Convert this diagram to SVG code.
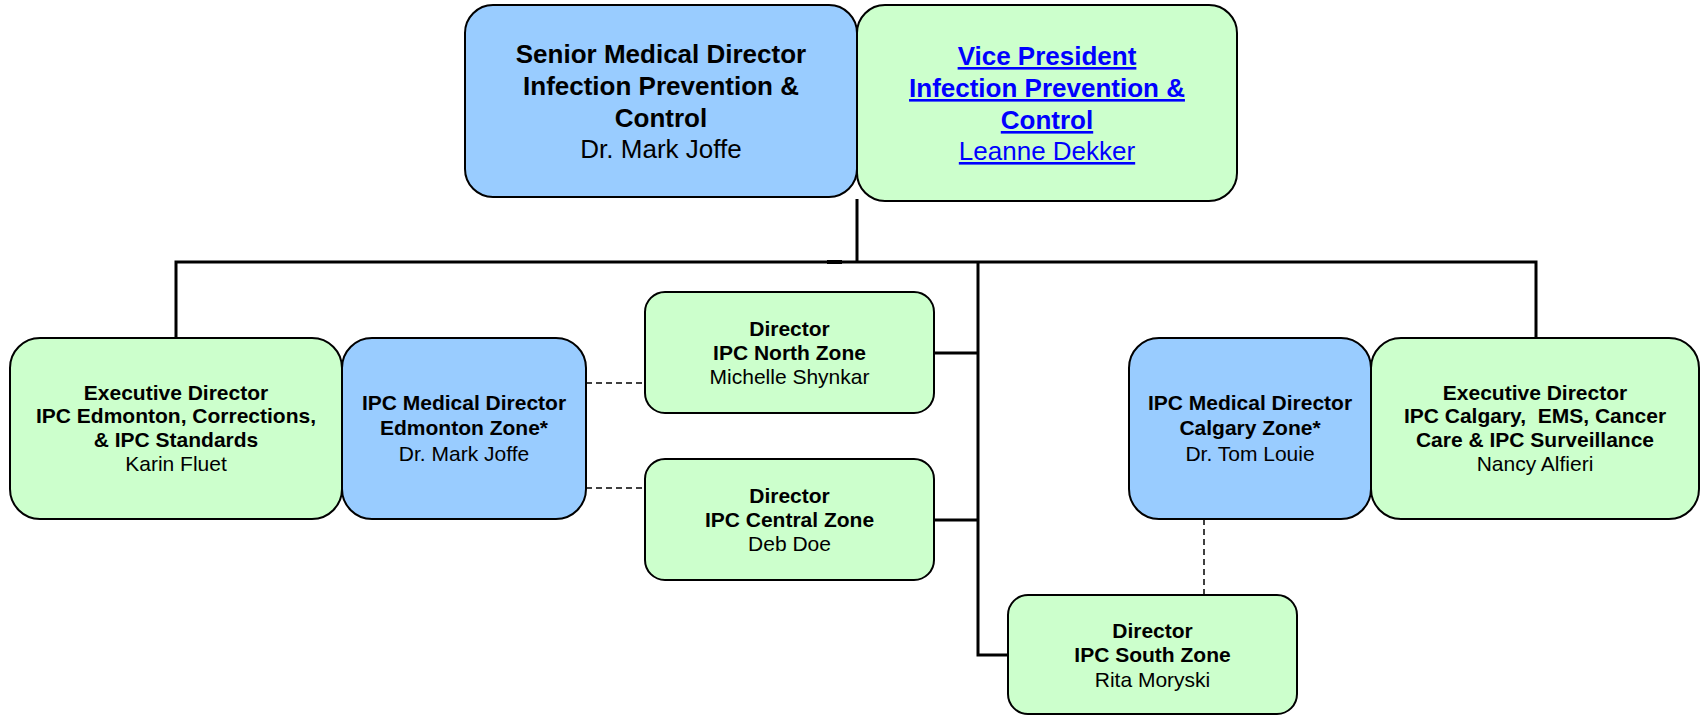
<svg xmlns="http://www.w3.org/2000/svg" width="1702" height="716" viewBox="0 0 1702 716">
<style>
.blue{fill:#99CCFF;stroke:#000;stroke-width:2}
.green{fill:#CCFFCC;stroke:#000;stroke-width:2}
text{font-family:"Liberation Sans",Arial,sans-serif;text-anchor:middle;fill:#000}
.b{font-weight:bold}
.big{font-size:26px}
.sm{font-size:21px}
.link{fill:#0000FF;text-decoration:underline}
.solid{fill:none;stroke:#000;stroke-width:3}
.dash{fill:none;stroke:#000;stroke-width:1.5;stroke-dasharray:6 4}
</style>
<rect width="1702" height="716" fill="#fff"/>
<g id="connectors">
<path class="solid" d="M857 199 V262 M176 338 V262 H1536 V338 M978 262 V655 H1008 M934 353 H978 M934 520 H978"/>
<line x1="827" y1="262" x2="842" y2="262" stroke="#000" stroke-width="4"/>
<path class="dash" d="M586 383 H645 M586 488 H645 M1204 519 V595"/>
</g>
<g id="senior-medical-director">
<rect class="blue" x="465" y="5" width="392" height="192" rx="28"/>
<text class="big" x="661"><tspan class="b" x="661" y="63">Senior Medical Director</tspan><tspan class="b" x="661" y="95">Infection Prevention &amp;</tspan><tspan class="b" x="661" y="127">Control</tspan><tspan x="661" y="158">Dr. Mark Joffe</tspan></text>
</g>
<g id="vice-president">
<rect class="green" x="857" y="5" width="380" height="196" rx="28"/>
<text class="big link"><tspan class="b" x="1047" y="65">Vice President</tspan><tspan class="b" x="1047" y="97">Infection Prevention &amp;</tspan><tspan class="b" x="1047" y="129">Control</tspan><tspan x="1047" y="160">Leanne Dekker</tspan></text>
</g>
<g id="exec-edmonton">
<rect class="green" x="10" y="338" width="332" height="181" rx="30"/>
<text class="sm"><tspan class="b" x="176" y="400">Executive Director</tspan><tspan class="b" x="176" y="423">IPC Edmonton, Corrections,</tspan><tspan class="b" x="176" y="447">&amp; IPC Standards</tspan><tspan x="176" y="471">Karin Fluet</tspan></text>
</g>
<g id="med-edmonton">
<rect class="blue" x="342" y="338" width="244" height="181" rx="30"/>
<text class="sm"><tspan class="b" x="464" y="410">IPC Medical Director</tspan><tspan class="b" x="464" y="435">Edmonton Zone*</tspan><tspan x="464" y="461">Dr. Mark Joffe</tspan></text>
</g>
<g id="director-north">
<rect class="green" x="645" y="292" width="289" height="121" rx="20"/>
<text class="sm"><tspan class="b" x="789.5" y="336">Director</tspan><tspan class="b" x="789.5" y="360">IPC North Zone</tspan><tspan x="789.5" y="384">Michelle Shynkar</tspan></text>
</g>
<g id="director-central">
<rect class="green" x="645" y="459" width="289" height="121" rx="20"/>
<text class="sm"><tspan class="b" x="789.5" y="503">Director</tspan><tspan class="b" x="789.5" y="527">IPC Central Zone</tspan><tspan x="789.5" y="551">Deb Doe</tspan></text>
</g>
<g id="med-calgary">
<rect class="blue" x="1129" y="338" width="242" height="181" rx="30"/>
<text class="sm"><tspan class="b" x="1250" y="410">IPC Medical Director</tspan><tspan class="b" x="1250" y="435">Calgary Zone*</tspan><tspan x="1250" y="461">Dr. Tom Louie</tspan></text>
</g>
<g id="exec-calgary">
<rect class="green" x="1371" y="338" width="328" height="181" rx="30"/>
<text class="sm"><tspan class="b" x="1535" y="400">Executive Director</tspan><tspan class="b" x="1535" y="423">IPC Calgary,&#160; EMS, Cancer</tspan><tspan class="b" x="1535" y="447">Care &amp; IPC Surveillance</tspan><tspan x="1535" y="471">Nancy Alfieri</tspan></text>
</g>
<g id="director-south">
<rect class="green" x="1008" y="595" width="289" height="119" rx="20"/>
<text class="sm"><tspan class="b" x="1152.5" y="638">Director</tspan><tspan class="b" x="1152.5" y="662">IPC South Zone</tspan><tspan x="1152.5" y="687">Rita Moryski</tspan></text>
</g>
</svg>
